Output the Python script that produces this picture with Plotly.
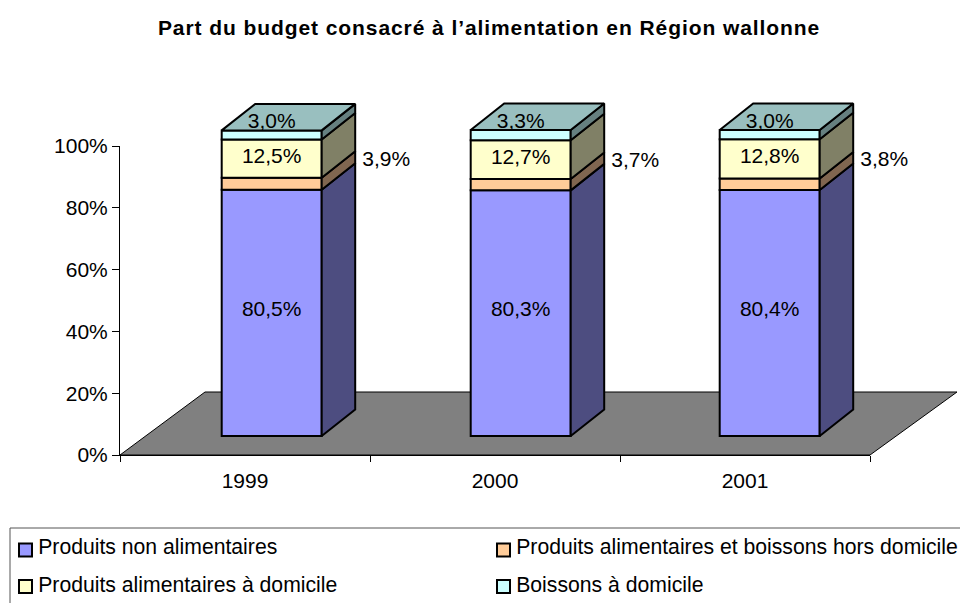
import plotly.graph_objects as go

years = ["1999", "2000", "2001"]
series_names = ["Produits non alimentaires", "Produits alimentaires et boissons hors domicile",
                "Produits alimentaires à domicile", "Boissons à domicile"]
non_alim = [80.5, 80.3, 80.4]
hors_dom = [3.9, 3.7, 3.8]
alim_dom = [12.5, 12.7, 12.8]
boissons = [3.0, 3.3, 3.0]
values = [non_alim, hors_dom, alim_dom, boissons]
front = ["#9999FF", "#FFCC99", "#FFFFCC", "#CCFFFF"]
side = ["#4D4D80", "#806650", "#808066", "#668080"]
top_col = "#99BFBF"
FONT = "Liberation Sans"
FS = 21

W, H = 960, 603
X0, X3, Y0, Y100 = 120, 870, 455, 146
U = (Y0 - Y100) / 100          # pixels per percent
FRONT = 0.99                   # front plane scale
PITCH = 249
BAR_W = 100
BX = 27.2                      # offset of front plane (px)
BY = 19 / U
DX = 33.5
DY = 26.5 / U
FDX, FDY = 86, 63 / U

cx = [X0 + PITCH * (i + 0.5) + BX for i in range(3)]
fig = go.Figure()
# real axes
fig.add_trace(go.Scatter(x=years, y=[0, 0, 0], mode="markers", marker=dict(opacity=0), showlegend=False,
                         hoverinfo="skip", xaxis="x", yaxis="y"))
# floor
fig.add_shape(type="path", xref="x2", yref="y2", layer="below", fillcolor="#808080", line=dict(color="black", width=1),
              path=f"M{X0},0 L{X0 + FDX - 1},{FDY} L{X3 + FDX + 1},{FDY} L{X3},0 Z")
# stacks
bases = [[0.0, 0.0, 0.0]]
for s in values:
    bases.append([b + v for b, v in zip(bases[-1], s)])
yv = lambda v: BY + v * FRONT
for k, s in enumerate(values):
    xs, ys = [], []
    for i in range(3):
        r = cx[i] + BAR_W / 2
        lo, hi = yv(bases[k][i]), yv(bases[k + 1][i])
        xs += [r, r + DX, r + DX, r, r, None]
        ys += [lo, lo + DY, hi + DY, hi, lo, None]
    fig.add_trace(go.Scatter(x=xs, y=ys, mode="lines", fill="toself", fillcolor=side[k],
                             line=dict(color="black", width=2), showlegend=False, hoverinfo="skip",
                             xaxis="x2", yaxis="y2"))
for k, s in enumerate(values):
    fig.add_trace(go.Bar(x=cx, y=[v * FRONT for v in s], base=[yv(b) for b in bases[k]], width=BAR_W,
                         name=series_names[k], marker=dict(color=front[k], line=dict(color="black", width=2)),
                         showlegend=False, xaxis="x2", yaxis="y2"))
# top faces
xs, ys = [], []
for i in range(3):
    l, r = cx[i] - BAR_W / 2, cx[i] + BAR_W / 2
    t = yv(bases[4][i])
    xs += [l, l + DX, r + DX, r, l, None]
    ys += [t, t + DY, t + DY, t, t, None]
fig.add_trace(go.Scatter(x=xs, y=ys, mode="lines", fill="toself", fillcolor=top_col,
                         line=dict(color="black", width=2), showlegend=False, hoverinfo="skip",
                         xaxis="x2", yaxis="y2"))
# value labels
fmt = lambda v: f"{v:.1f}%".replace(".", ",")
def labels(k, xoff, yoff):
    fig.add_trace(go.Scatter(
        x=[c + xoff for c in cx],
        y=[(yv(bases[k][i]) + yv(bases[k + 1][i])) / 2 + yoff / U for i in range(3)],
        text=[fmt(v) for v in values[k]], mode="text", textposition="middle center",
        textfont=dict(family=FONT, size=FS, color="black"), showlegend=False, hoverinfo="skip",
        xaxis="x2", yaxis="y2"))
labels(0, 0, 2)
labels(1, 114.5, 23)
labels(2, 0, 1)
labels(3, 0, 12)

# legend
fig.add_shape(type="rect", xref="x2", yref="paper", x0=10, x1=975, y0=-0.05, y1=(H - 528) / H,
              line=dict(color="#555555", width=1), fillcolor="white", layer="below")
lx = [25.5, 503.5, 25.5, 503.5]
ly_box = [550, 550, 586.5, 586.5]
ly_txt = [548.5, 548.5, 587, 587]
fig.add_trace(go.Scatter(x=lx, y=[(Y0 - p) / U for p in ly_box], mode="markers",
                         marker=dict(symbol="square", size=13, color=front, line=dict(color="black", width=2)),
                         showlegend=False, hoverinfo="skip", xaxis="x2", yaxis="y2"))
fig.add_trace(go.Scatter(x=[v + 12.7 for v in lx], y=[(Y0 - p) / U for p in ly_txt], text=series_names, mode="text",
                         textposition="middle right", textfont=dict(family=FONT, size=21.2, color="black"),
                         showlegend=False, hoverinfo="skip", xaxis="x2", yaxis="y2", cliponaxis=False))

pct = [0, 20, 40, 60, 80, 100]
fig.update_layout(
    width=W, height=H, margin=dict(l=0, r=0, t=0, b=0, pad=0, autoexpand=False), autosize=False,
    paper_bgcolor="white", plot_bgcolor="rgba(0,0,0,0)", barmode="overlay", showlegend=False,
    font=dict(family=FONT, size=FS, color="black"),
    title=dict(text="<b>Part du budget consacré à l’alimentation en Région wallonne</b>", x=489 / W, xanchor="center",
               y=1 - 28 / H, yanchor="middle", font=dict(family=FONT, size=21, color="black")),
    xaxis=dict(domain=[X0 / W, X3 / W], type="category", range=[-0.5, 2.5], tickson="boundaries", ticks="outside",
               ticklen=6, tickcolor="black", showline=True, linecolor="black", linewidth=1, showgrid=False,
               zeroline=False, anchor="y", ticklabelstandoff=7),
    yaxis=dict(domain=[(H - Y0) / H, (H - Y100) / H], range=[0, 100], tickvals=pct, ticktext=[f"{p}%" for p in pct],
               ticks="outside", ticklen=7, tickcolor="black", showline=True, linecolor="black",
               linewidth=1, showgrid=False, zeroline=False, anchor="x"),
    xaxis2=dict(domain=[0, 1], range=[0, W], visible=False, anchor="y2"),
    yaxis2=dict(domain=[0, 1], range=[(Y0 - H) / U, Y0 / U], visible=False, anchor="x2"),
)
fig.write_html("out.html", config={"displayModeBar": False},
               post_script="document.documentElement.style.margin='0';document.body.style.margin='0';"
                           "document.body.style.overflow='hidden';"
                           "var t=document.querySelector('.gtitle');if(t){t.style.letterSpacing='0.92px';}")
